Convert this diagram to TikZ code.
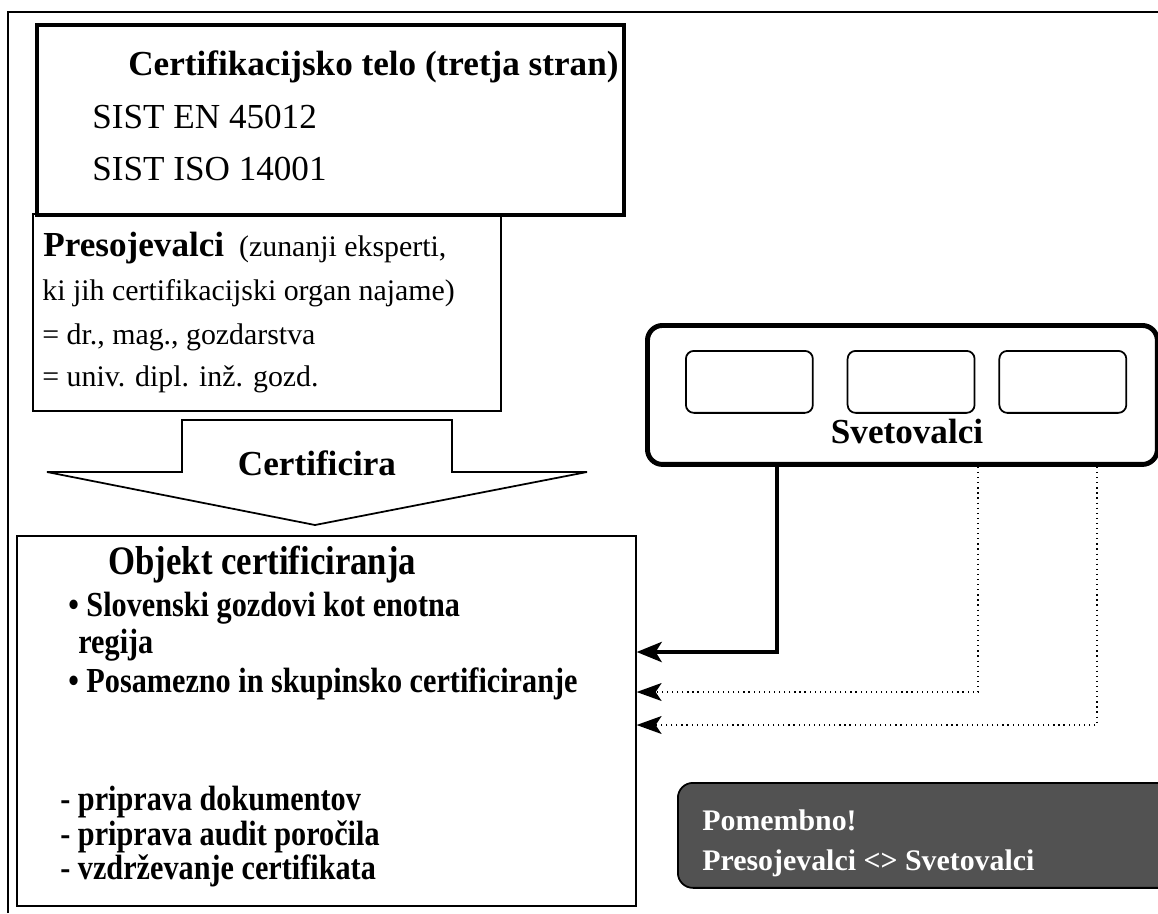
\documentclass[tikz,border=0pt]{standalone}
\usepackage{fontspec}
\setmainfont{Liberation Serif}
\newfontfamily\ozka{Liberation Serif}[FakeStretch=0.86]
\usetikzlibrary{calc, shapes, arrows.meta, positioning}

\tikzset{
 okvir/.style={draw, inner sep=0pt, anchor=north west},
 tekst/.style={anchor=base west, inner sep=0pt},
 velik/.style={font=\fontsize{20}{24}\selectfont},
 srednji/.style={font=\fontsize{17}{20}\selectfont},
 ozek/.style={font=\ozka\bfseries\fontsize{20}{24}\selectfont},
 vez/.style={line width=2.5pt, -{Stealth[length=0.5cm, width=0.4cm, inset=0.12cm]}},
 pikce/.style={line width=0.7pt, dash pattern=on 0.7pt off 2.2pt, -{Stealth[length=0.5cm, width=0.36cm, inset=0.12cm]}}
}

\begin{document}
\begin{tikzpicture}[x=0.02cm, y=-0.02cm]
\path[use as bounding box, clip] (0,0) rectangle (1158,913);
\draw[line width=1pt] (8,913) -- (8,12) -- (1158,12);

% certifikacijsko telo in presojevalci
\node[okvir, line width=1pt, minimum width=9.36cm, minimum height=3.94cm] (presoj) at (32,213) {};
\node[okvir, line width=2.5pt, minimum width=11.74cm, minimum height=3.8cm] (telo) at (35,23) {};
\node[tekst, velik] (telonaslov) at (128,75) {\textbf{Certifikacijsko telo (tretja stran)}};
\node[tekst, velik] (sist1) at (92,128) {SIST EN 45012};
\node[tekst, velik] (sist2) at (92,180) {SIST ISO 14001};

\node[tekst, srednji] (presoj1) at (43,256) {{\fontsize{20}{24}\selectfont\textbf{Presojevalci}}~ (zunanji eksperti,};
\node[tekst, srednji] (presoj2) at (42,300) {ki jih certifikacijski organ najame)};
\node[tekst, srednji] (presoj3) at (42,344) {= dr., mag., gozdarstva};
\node[tekst, srednji] (presoj4) at (42,386) {= univ. dipl. inž. gozd.};

% puscica
\draw[line width=1pt, fill=white] (182,420) -- (452,420) -- (452,472) -- (587,472) -- (315,525) -- (47,472) -- (182,472) -- cycle;
\node[velik] (certificira) at (317,463) {\textbf{Certificira}};

% objekt
\node[okvir, line width=1pt, minimum width=12.38cm, minimum height=7.4cm] (objekt) at (16,535) {};
\node[tekst, font=\ozka\bfseries\fontsize{23}{27}\selectfont] (objnaslov) at (108,574) {Objekt certificiranja};
\node[tekst, ozek] (obj1) at (68,616) {• Slovenski gozdovi kot enotna};
\node[tekst, ozek] (obj2) at (78,653) {regija};
\node[tekst, ozek] (obj3) at (68,692) {• Posamezno in skupinsko certificiranje};
\node[tekst, ozek] (obj4) at (60,810) {- priprava dokumentov};
\node[tekst, ozek] (obj5) at (60,845) {- priprava audit poročila};
\node[tekst, ozek] (obj6) at (60,879) {- vzdrževanje certifikata};

% svetovalci
\node[okvir, line width=2.8pt, rounded corners=0.3cm, minimum width=10.2cm, minimum height=2.78cm] (svet) at (645,323) {};
\node[okvir, line width=1pt, rounded corners=0.16cm, minimum width=2.54cm, minimum height=1.24cm] (svet1) at (685,350) {};
\node[okvir, line width=1pt, rounded corners=0.16cm, minimum width=2.54cm, minimum height=1.24cm, right=0.66cm of svet1] (svet2) {};
\node[okvir, line width=1pt, rounded corners=0.16cm, minimum width=2.54cm, minimum height=1.24cm, right=0.46cm of svet2] (svet3) {};
\node[velik] (svetnapis) at (907,431) {\textbf{Svetovalci}};

\draw[vez] ($(svet.south west)+(132,0)$) |- ($(objekt.north east)+(0,117)$);
\draw[pikce] ($(svet.south west)+(333,0)$) |- ($(objekt.north east)+(0,157)$);
\draw[pikce] ($(svet.south west)+(452,0)$) |- ($(objekt.north east)+(0,190)$);

% pomembno
\node[okvir, line width=1pt, fill=black!68, rounded corners=0.3cm, minimum width=10.1cm, minimum height=2.1cm] (pomembno) at (677,782) {};
\node[tekst, srednji, text=white] (pomembno1) at (702,830) {\textbf{Pomembno!}};
\node[tekst, srednji, text=white] (pomembno2) at (702,870) {\textbf{Presojevalci <> Svetovalci}};
\end{tikzpicture}
\end{document}
